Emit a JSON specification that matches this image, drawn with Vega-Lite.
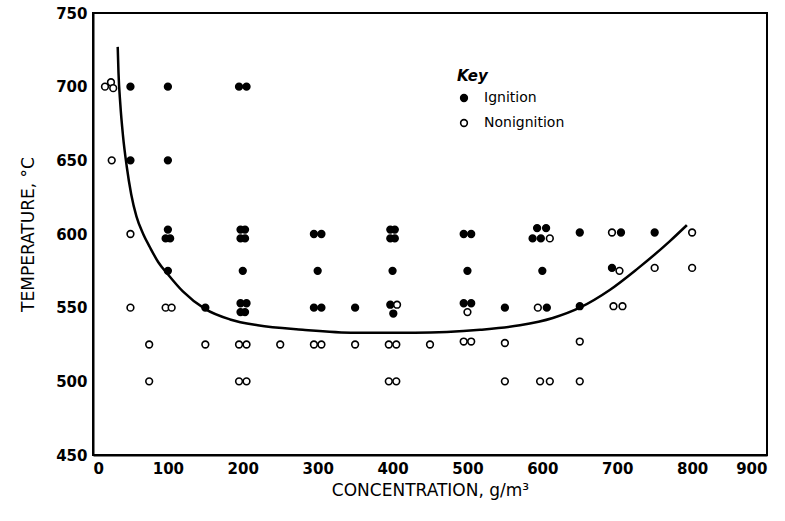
{
  "$schema": "https://vega.github.io/schema/vega-lite/v6.json",
  "width": 674,
  "height": 442,
  "autosize": {"type": "none"},
  "padding": {"left": 93, "top": 13, "right": 18, "bottom": 66},
  "background": "white",
  "config": {
    "view": {"stroke": "black", "strokeWidth": 2},
    "axis": {
      "grid": false,
      "domainColor": "#000000",
      "domainWidth": 2,
      "tickColor": "#000000",
      "tickWidth": 1.5,
      "tickSize": 5,
      "labelFont": "DejaVu Sans",
      "labelFontWeight": "bold",
      "labelFontSize": 15,
      "labelColor": "#000000",
      "labelPadding": 2,
      "titleFont": "DejaVu Sans",
      "titleFontWeight": "normal",
      "titleFontSize": 17,
      "titleColor": "#000000"
    },
    "legend": {
      "labelFont": "DejaVu Sans",
      "labelFontSize": 14,
      "labelColor": "#000000",
      "titleFont": "DejaVu Sans",
      "titleFontSize": 15,
      "titleColor": "#000000"
    }
  },
  "datasets": {
    "curve": [
      {"c": 33, "t": 727}, {"c": 34, "t": 710}, {"c": 36.5, "t": 688}, {"c": 40, "t": 667},
      {"c": 45, "t": 646}, {"c": 51, "t": 627}, {"c": 58, "t": 612}, {"c": 67, "t": 600},
      {"c": 76, "t": 591}, {"c": 87, "t": 581}, {"c": 101, "t": 572}, {"c": 120, "t": 561},
      {"c": 150, "t": 549}, {"c": 183, "t": 542}, {"c": 220, "t": 538}, {"c": 280, "t": 535},
      {"c": 350, "t": 533}, {"c": 430, "t": 533}, {"c": 517, "t": 535}, {"c": 570, "t": 538},
      {"c": 614, "t": 543}, {"c": 650, "t": 550}, {"c": 690, "t": 562}, {"c": 726, "t": 576},
      {"c": 770, "t": 595}, {"c": 793, "t": 606}
    ],
    "pts": [
      {"c": 50, "t": 700, "r": "Ignition"}, {"c": 100, "t": 700, "r": "Ignition"},
      {"c": 195, "t": 700, "r": "Ignition"}, {"c": 205, "t": 700, "r": "Ignition"},
      {"c": 50, "t": 650, "r": "Ignition"}, {"c": 100, "t": 650, "r": "Ignition"},
      {"c": 100, "t": 603, "r": "Ignition"}, {"c": 97, "t": 597, "r": "Ignition"}, {"c": 103, "t": 597, "r": "Ignition"},
      {"c": 197, "t": 603, "r": "Ignition"}, {"c": 203, "t": 603, "r": "Ignition"}, {"c": 197, "t": 597, "r": "Ignition"}, {"c": 203, "t": 597, "r": "Ignition"},
      {"c": 295, "t": 600, "r": "Ignition"}, {"c": 305, "t": 600, "r": "Ignition"},
      {"c": 397, "t": 603, "r": "Ignition"}, {"c": 403, "t": 603, "r": "Ignition"}, {"c": 397, "t": 597, "r": "Ignition"}, {"c": 403, "t": 597, "r": "Ignition"},
      {"c": 495, "t": 600, "r": "Ignition"}, {"c": 505, "t": 600, "r": "Ignition"},
      {"c": 593, "t": 604, "r": "Ignition"}, {"c": 605, "t": 604, "r": "Ignition"}, {"c": 587, "t": 597, "r": "Ignition"}, {"c": 598, "t": 597, "r": "Ignition"},
      {"c": 650, "t": 601, "r": "Ignition"}, {"c": 705, "t": 601, "r": "Ignition"}, {"c": 750, "t": 601, "r": "Ignition"},
      {"c": 100, "t": 575, "r": "Ignition"}, {"c": 200, "t": 575, "r": "Ignition"}, {"c": 300, "t": 575, "r": "Ignition"},
      {"c": 400, "t": 575, "r": "Ignition"}, {"c": 500, "t": 575, "r": "Ignition"}, {"c": 600, "t": 575, "r": "Ignition"},
      {"c": 693, "t": 577, "r": "Ignition"},
      {"c": 150, "t": 550, "r": "Ignition"},
      {"c": 197, "t": 553, "r": "Ignition"}, {"c": 205, "t": 553, "r": "Ignition"}, {"c": 197, "t": 547, "r": "Ignition"}, {"c": 203, "t": 547, "r": "Ignition"},
      {"c": 295, "t": 550, "r": "Ignition"}, {"c": 305, "t": 550, "r": "Ignition"}, {"c": 350, "t": 550, "r": "Ignition"},
      {"c": 397, "t": 552, "r": "Ignition"}, {"c": 401, "t": 546, "r": "Ignition"},
      {"c": 495, "t": 553, "r": "Ignition"}, {"c": 505, "t": 553, "r": "Ignition"},
      {"c": 550, "t": 550, "r": "Ignition"}, {"c": 606, "t": 550, "r": "Ignition"}, {"c": 650, "t": 551, "r": "Ignition"},
      {"c": 16, "t": 700, "r": "Nonignition"}, {"c": 24, "t": 703, "r": "Nonignition"}, {"c": 27, "t": 699, "r": "Nonignition"},
      {"c": 25, "t": 650, "r": "Nonignition"},
      {"c": 50, "t": 600, "r": "Nonignition"}, {"c": 610, "t": 597, "r": "Nonignition"}, {"c": 693, "t": 601, "r": "Nonignition"}, {"c": 800, "t": 601, "r": "Nonignition"},
      {"c": 703, "t": 575, "r": "Nonignition"}, {"c": 750, "t": 577, "r": "Nonignition"}, {"c": 800, "t": 577, "r": "Nonignition"},
      {"c": 50, "t": 550, "r": "Nonignition"}, {"c": 97, "t": 550, "r": "Nonignition"}, {"c": 105, "t": 550, "r": "Nonignition"},
      {"c": 406, "t": 552, "r": "Nonignition"}, {"c": 500, "t": 547, "r": "Nonignition"}, {"c": 594, "t": 550, "r": "Nonignition"},
      {"c": 695, "t": 551, "r": "Nonignition"}, {"c": 707, "t": 551, "r": "Nonignition"},
      {"c": 75, "t": 525, "r": "Nonignition"}, {"c": 150, "t": 525, "r": "Nonignition"}, {"c": 195, "t": 525, "r": "Nonignition"},
      {"c": 205, "t": 525, "r": "Nonignition"}, {"c": 250, "t": 525, "r": "Nonignition"}, {"c": 295, "t": 525, "r": "Nonignition"},
      {"c": 305, "t": 525, "r": "Nonignition"}, {"c": 350, "t": 525, "r": "Nonignition"}, {"c": 395, "t": 525, "r": "Nonignition"},
      {"c": 405, "t": 525, "r": "Nonignition"}, {"c": 450, "t": 525, "r": "Nonignition"}, {"c": 495, "t": 527, "r": "Nonignition"},
      {"c": 505, "t": 527, "r": "Nonignition"}, {"c": 550, "t": 526, "r": "Nonignition"}, {"c": 650, "t": 527, "r": "Nonignition"},
      {"c": 75, "t": 500, "r": "Nonignition"}, {"c": 195, "t": 500, "r": "Nonignition"}, {"c": 205, "t": 500, "r": "Nonignition"},
      {"c": 395, "t": 500, "r": "Nonignition"}, {"c": 405, "t": 500, "r": "Nonignition"}, {"c": 550, "t": 500, "r": "Nonignition"},
      {"c": 597, "t": 500, "r": "Nonignition"}, {"c": 610, "t": 500, "r": "Nonignition"}, {"c": 650, "t": 500, "r": "Nonignition"}
    ]
  },
  "encoding": {
    "x": {
      "field": "c", "type": "quantitative",
      "scale": {"domain": [0, 900], "nice": false},
      "axis": {"values": [0, 100, 200, 300, 400, 500, 600, 700, 800, 900], "title": "CONCENTRATION, g/m³", "titlePadding": 6, "ticks": false, "labelPadding": 6}
    },
    "y": {
      "field": "t", "type": "quantitative",
      "scale": {"domain": [450, 750], "nice": false, "zero": false},
      "axis": {"values": [450, 500, 550, 600, 650, 700, 750], "title": "TEMPERATURE, °C", "titlePadding": 18, "titleColor": "#000000", "ticks": false, "labelPadding": 6}
    }
  },
  "layer": [
    {
      "data": {"name": "curve"},
      "mark": {"type": "line", "interpolate": "monotone", "color": "black", "strokeWidth": 2.5}
    },
    {
      "data": {"name": "pts"},
      "mark": {"type": "point", "shape": "circle", "filled": true, "stroke": "black", "strokeWidth": 1.6, "size": 45, "opacity": 1},
      "encoding": {
        "fill": {
          "field": "r", "type": "nominal",
          "scale": {"domain": ["Ignition", "Nonignition"], "range": ["black", "white"]},
          "legend": {
            "title": "Key",
            "orient": "none",
            "legendX": 364,
            "legendY": 56,
            "titleFontStyle": "italic",
            "titleFontWeight": "bold",
            "titlePadding": 7,
            "symbolType": "circle",
            "symbolSize": 45,
            "symbolStrokeColor": "black",
            "symbolStrokeWidth": 1.6,
            "labelOffset": 13,
            "rowPadding": 11
          }
        }
      }
    }
  ]
}
